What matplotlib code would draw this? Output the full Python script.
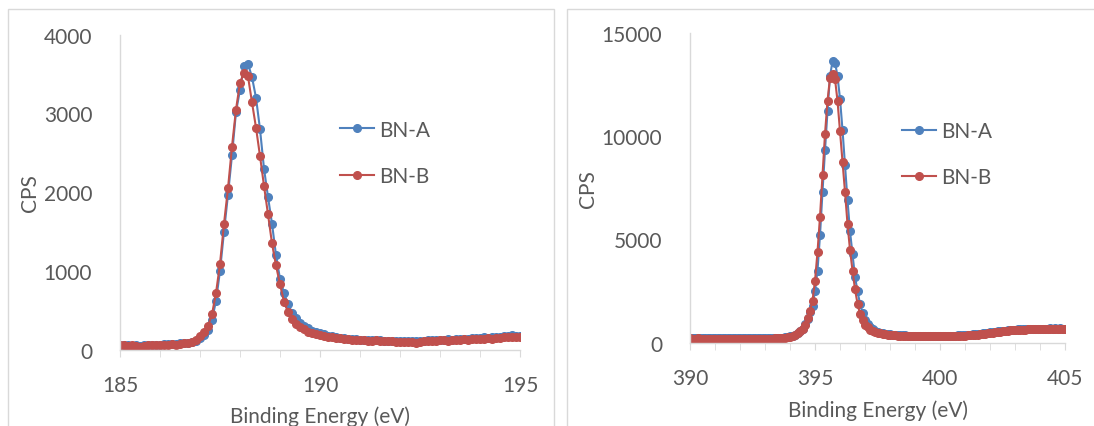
import numpy as np
import matplotlib
matplotlib.use('Agg')
import matplotlib.pyplot as plt
from matplotlib.patches import Rectangle
from matplotlib.ticker import MultipleLocator

plt.rcParams['font.family'] = ['Lato', 'DejaVu Sans']

# B 1s region
b1s_start, b1s_step = 185.0, 0.1
b1s_A = [60, 55, 62, 50, 58, 52, 60, 55, 65, 58,
         62, 70, 75, 68, 78, 80, 85, 90, 100, 115,
         150, 190, 250, 380, 620, 1000, 1500, 1970, 2470, 3020,
         3300, 3600, 3630, 3460, 3200, 2800, 2300, 1940, 1600, 1200,
         900, 720, 580, 470, 400, 340, 300, 270, 240, 225,
         210, 195, 180, 170, 160, 150, 145, 140, 135, 130,
         128, 125, 122, 120, 118, 120, 115, 112, 110, 108,
         105, 110, 108, 112, 105, 110, 115, 120, 118, 122,
         125, 128, 130, 128, 135, 138, 140, 142, 145, 148,
         150, 155, 152, 158, 160, 165, 170, 172, 185, 180,
         175]
b1s_B = [55, 60, 50, 58, 45, 40, 52, 58, 62, 55,
         60, 65, 58, 70, 65, 72, 80, 85, 95, 120,
         170, 230, 300, 450, 720, 1090, 1600, 2050, 2580, 3050,
         3390, 3520, 3470, 3140, 2820, 2460, 2080, 1720, 1350, 1070,
         830, 610, 480, 390, 330, 290, 260, 230, 215, 200,
         185, 175, 165, 155, 150, 145, 140, 130, 128, 125,
         120, 118, 115, 112, 120, 110, 108, 112, 105, 100,
         102, 98, 100, 95, 88, 100, 105, 110, 112, 115,
         118, 120, 115, 122, 125, 128, 130, 126, 132, 135,
         140, 138, 145, 142, 148, 150, 155, 160, 165, 158,
         155]

# N 1s region
n1s_start, n1s_step = 390.0, 0.1
n1s_A = [240, 235, 230, 245, 232, 228, 240, 232, 225, 235,
         232, 228, 235, 230, 222, 228, 232, 225, 220, 228,
         225, 228, 220, 218, 225, 222, 220, 228, 222, 232,
         228, 232, 238, 235, 242, 248, 252, 262, 275, 290,
         320, 360, 410, 480, 580, 700, 900, 1150, 1500, 1800,
         2500, 3500, 5200, 7300, 9300, 11200, 12900, 13600, 13550, 12900,
         11800, 10300, 8600, 6900, 5400, 4300, 3200, 2500, 1900, 1450,
         1100, 900, 760, 660, 590, 540, 500, 470, 450, 430,
         415, 405, 395, 385, 378, 372, 366, 360, 355, 350,
         350, 345, 342, 345, 340, 338, 342, 340, 338, 342,
         342, 345, 348, 352, 350, 358, 362, 368, 372, 378,
         385, 392, 402, 412, 422, 432, 448, 462, 478, 492,
         512, 528, 542, 558, 572, 588, 602, 618, 628, 640,
         650, 655, 662, 668, 672, 678, 682, 686, 690, 692,
         695, 698, 700, 696, 705, 700, 708, 698, 702, 696,
         690]
n1s_B = [220, 215, 210, 220, 212, 208, 215, 210, 205, 212,
         210, 205, 212, 208, 200, 205, 210, 202, 198, 205,
         200, 205, 198, 195, 202, 200, 196, 205, 200, 210,
         205, 210, 215, 212, 220, 225, 230, 240, 255, 270,
         310, 350, 400, 470, 560, 680, 880, 1200, 1550, 2050,
         3000, 4400, 6100, 8100, 10100, 11700, 12800, 13000, 12750, 11700,
         10250, 8750, 7300, 5750, 4500, 3500, 2600, 1900, 1400, 1100,
         880, 750, 650, 580, 530, 490, 460, 440, 420, 400,
         390, 380, 370, 360, 355, 350, 345, 340, 335, 330,
         330, 325, 320, 322, 318, 315, 320, 318, 315, 320,
         320, 322, 325, 330, 328, 335, 340, 345, 350, 355,
         360, 370, 380, 390, 400, 410, 425, 440, 455, 470,
         490, 505, 520, 535, 550, 565, 580, 595, 605, 615,
         625, 632, 640, 645, 650, 655, 660, 662, 665, 668,
         670, 672, 675, 670, 678, 675, 680, 672, 676, 670,
         665]

labels = ['BN-A', 'BN-B']
colors = ['#4F81BD', '#C0504D']
txt = '#595959'
grid_c = '#D9D9D9'
fs = 15

W, H = 1094, 427
fig = plt.figure(figsize=(W / 100, H / 100), dpi=100)

# chart area frames
fig.add_artist(Rectangle((8 / W, -0.1), (554 - 8) / W, 1.1 - 10 / H,
                         transform=fig.transFigure, fill=False, ec=grid_c, lw=1))
fig.add_artist(Rectangle((567 / W, -0.1), 0.6, 1.1 - 10 / H,
                         transform=fig.transFigure, fill=False, ec=grid_c, lw=1))


def make_panel(rect, start, step, ya, yb, xlim, xmajor, ylim, ymajor, leg_pos):
    ax = fig.add_axes(rect)
    x = start + step * np.arange(len(ya))
    for y, lab, c in zip([ya, yb], labels, colors):
        ax.plot(x, y, '-o', color=c, lw=1.5, ms=5.5, label=lab)
    ax.set_xlim(*xlim)
    ax.set_ylim(*ylim)
    ax.xaxis.set_major_locator(MultipleLocator(xmajor))
    ax.xaxis.set_minor_locator(MultipleLocator(1))
    ax.yaxis.set_major_locator(MultipleLocator(ymajor))
    for s in ['top', 'right']:
        ax.spines[s].set_visible(False)
    for s in ['left', 'bottom']:
        ax.spines[s].set_color(grid_c)
        ax.spines[s].set_linewidth(1)
    ax.tick_params(axis='x', which='both', direction='out', length=5, color=grid_c,
                   labelsize=fs, labelcolor=txt, pad=13)
    ax.tick_params(axis='y', length=0, labelsize=fs, labelcolor=txt, pad=20)
    ax.set_xlabel('Binding Energy (eV)', fontsize=fs, color=txt, labelpad=8)
    ax.set_ylabel('CPS', fontsize=fs, color=txt)
    ax.legend(frameon=False, loc='upper left', bbox_to_anchor=leg_pos, fontsize=fs,
              handlelength=1.65, handletextpad=0.25, labelspacing=1.25,
              borderpad=0, borderaxespad=0, labelcolor=txt)
    return ax


axL = make_panel([120 / W, 1 - 350.7 / H, 400 / W, (350.7 - 35.7) / H],
                 b1s_start, b1s_step, b1s_A, b1s_B,
                 (185, 195), 5, (0, 4000), 1000, (0.55, 0.73))
axL.yaxis.set_label_coords(-0.2, 0.5)
axR = make_panel([690 / W, 1 - 344 / H, 375 / W, (344 - 33.5) / H],
                 n1s_start, n1s_step, n1s_A, n1s_B,
                 (390, 405), 5, (0, 15000), 5000, (0.565, 0.715))
axR.yaxis.set_label_coords(-0.245, 0.5)

fig.savefig('out.png', dpi=100)
